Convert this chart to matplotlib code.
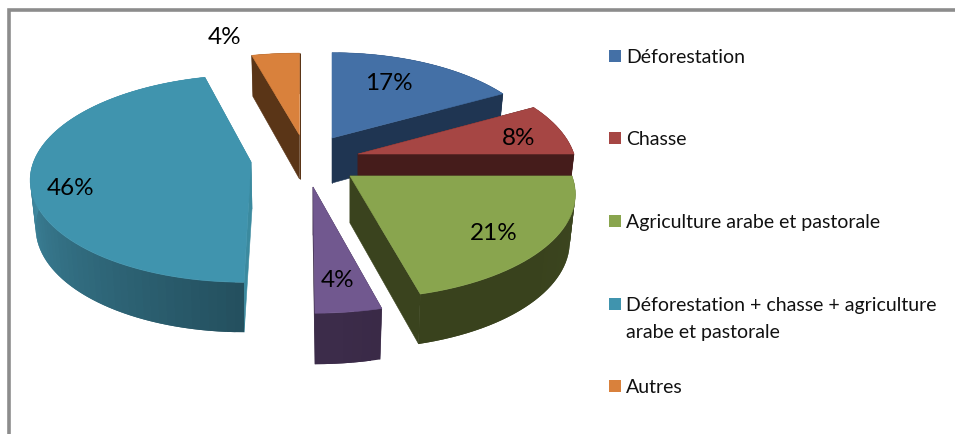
import numpy as np
import matplotlib
matplotlib.use("Agg")
import matplotlib.pyplot as plt
from matplotlib.collections import PolyCollection
from matplotlib.colors import to_rgb
from matplotlib.patches import Polygon, Rectangle

categories = [
    "Déforestation",
    "Chasse",
    "Agriculture arabe et pastorale",
    "Déforestation + chasse + agriculture\narabe et pastorale",
    "Autres",
]
# the picture has a sixth, purple slice with no legend entry
slice_values = [17, 8, 21, 4, 46, 4]
slice_labels = ["17%", "8%", "21%", "4%", "46%", "4%"]

top_colors = ["#4470a6", "#a64644", "#89a54e", "#71588f", "#4094ae", "#d9813c"]
cut_colors = ["#1f3552", "#451c1b", "#3a431e", "#3a2a47", "#3b8a9f", "#5a3517"]
rim_start = ["#1f3552", "#451c1b", "#3d4720", "#3a2a47", "#24505f", "#5a3517"]
rim_end = ["#1f3552", "#451c1b", "#39421d", "#3c2c4a", "#408ba3", "#5a3517"]
legend_colors = ["#4470a6", "#a64644", "#89a54e", "#4094ae", "#d9813c"]

# where each exploded slice has its point, in picture pixels
tips = [(332, 139), (358, 155), (350, 177), (313, 188), (251, 163), (299.5, 136)]
wall_heights = [45, 45, 47, 48, 47, 44]
radius_x = [210, 216, 219, 227, 214, 222]
radius_y = [99, 104, 103, 106, 101, 95]
skews = [0, 0, 6, 2, -7, 0]
label_pos = [(389, 84), (519, 139), (494, 234), (338, 281), (71, 189), (225, 38)]
legend_y = [57, 139, 222, 305, 387]

PERSP = 0.16


def rim_points(i, t0, t1, wall=None):
    t = np.radians(np.linspace(t0, t1, max(int((t1 - t0) / 2), 2) + 1))
    w = 1 + PERSP * np.cos(t)
    x = radius_x[i] * np.sin(t) / w + skews[i] * (1 - np.cos(t)) / 2
    y = -radius_y[i] * np.cos(t) / w
    if wall is not None:
        x = x * 0.975
        y = y + wall - 3 * np.cos(t)
    return np.column_stack([tips[i][0] + x, tips[i][1] + y])


def mix(c0, c1, f):
    return tuple(a + (b - a) * f for a, b in zip(to_rgb(c0), to_rgb(c1)))


fig = plt.figure(figsize=(9.55, 4.35), dpi=100)
ax = fig.add_axes([0, 0, 1, 1])
ax.set_xlim(0, 955)
ax.set_ylim(435, 0)
ax.axis("off")

# frame, only left and top survive the crop
ax.plot([9, 9, 955], [435, 11, 11], color="#8c8c8c", lw=2.6, solid_joinstyle="miter")

edges = np.cumsum([0] + slice_values) / sum(slice_values) * 360
draw_order = [5, 4, 3, 0, 1, 2]
for i in draw_order:
    t0, t1 = edges[i], edges[i + 1]
    tip, h = tips[i], wall_heights[i]
    top = rim_points(i, t0, t1)
    low = rim_points(i, t0, t1, h)
    tip_low = (tip[0] + (1 if i == 4 else 0), tip[1] + h)

    # the two cut faces
    ax.add_patch(Polygon([tip, top[0], low[0], tip_low], fc=cut_colors[i], ec=cut_colors[i], lw=0.4))
    ax.add_patch(Polygon([tip, top[-1], low[-1], tip_low], fc=cut_colors[i], ec=cut_colors[i], lw=0.4))

    # outer wall in strips so it can shade, each one laps over the next
    quads, shades = [], []
    for j in range(len(top) - 1):
        k = min(j + 2, len(top) - 1)
        quads.append([top[j], *top[j + 1:k + 1], *low[j + 1:k + 1][::-1], low[j]])
        shades.append(mix(rim_start[i], rim_end[i], min(j / (len(top) * 0.55), 1)))
    ax.add_collection(PolyCollection(quads, facecolors=shades, edgecolors="none", linewidths=0))

    ax.add_patch(Polygon(np.vstack([[tip], top]), fc=top_colors[i], ec=top_colors[i], lw=0.4))

for pos, label in zip(label_pos, slice_labels):
    ax.text(pos[0], pos[1], label, ha="center", va="center", fontsize=17.5, family="Lato", color="black")

for y, name, color in zip(legend_y, categories, legend_colors):
    ax.add_patch(Rectangle((609, y - 6), 12, 12, fc=color, ec="none"))
    ax.text(626, y - 8, name, ha="left", va="top", fontsize=14.05, family="Lato", color="#111111", linespacing=1.72)

fig.savefig("out.png", dpi=100)
